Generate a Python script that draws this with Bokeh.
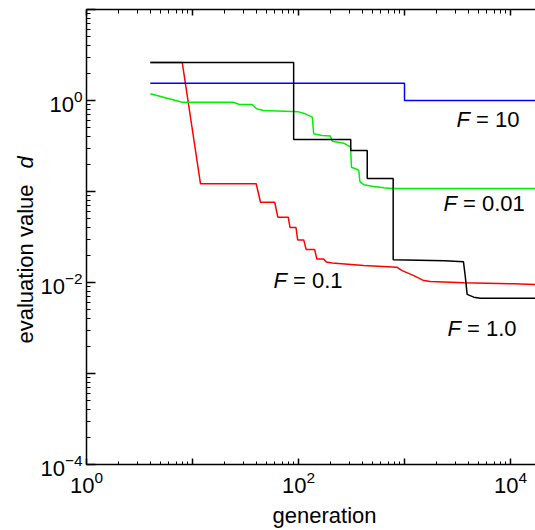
import numpy as np
from bokeh.plotting import figure
from bokeh.models import Range1d, LogAxis, FixedTicker, Label, CustomJSTickFormatter
from bokeh.embed import file_html
from bokeh.resources import INLINE

# ---- data ----
black_gen = [4, 90, 90, 311, 311, 445, 445, 782, 782, 2400, 3600, 3750, 3900, 4500, 5200, 20000]
black_val = [2.62, 2.62, 0.373, 0.373, 0.282, 0.282, 0.139, 0.139, 0.0178, 0.0173, 0.0169,
             0.0115, 0.0074, 0.0069, 0.0067, 0.0067]

blue_gen = [4, 1000, 1000, 20000]
blue_val = [1.55, 1.55, 1.0, 1.0]

green_gen = [4, 8, 24.2, 27.8, 36.6, 40.2, 46.8, 87, 100, 116, 135, 139, 167, 200, 208, 267,
             310, 316, 345, 371, 379, 413, 495, 638, 765, 20000]
green_val = [1.185, 0.958, 0.958, 0.904, 0.904, 0.811, 0.776, 0.757, 0.75, 0.714, 0.656, 0.431,
             0.412, 0.407, 0.357, 0.34, 0.307, 0.185, 0.178, 0.170, 0.129, 0.1186, 0.1143,
             0.110, 0.108, 0.108]

red_gen = [4, 8, 11.9, 39.9, 43.8, 59.7, 63.8, 80, 83.2, 94.7, 98.2, 112, 118, 142, 149, 173,
           183, 208, 413, 853, 951, 1224, 1521, 1759, 3626, 10740, 20000]
red_val = [2.62, 2.62, 0.1216, 0.1216, 0.0762, 0.0762, 0.0522, 0.0522, 0.0402, 0.0402, 0.0294,
           0.0294, 0.0231, 0.0231, 0.0181, 0.0181, 0.0168, 0.0164, 0.0154, 0.0147, 0.0135,
           0.0119, 0.0105, 0.01026, 0.00993, 0.00968, 0.00944]

series_names = ["10", "0.01", "0.1", "1.0"]

x_major = [1, 10, 100, 1000, 10000]
x_minor = [m * 10 ** k for k in range(0, 5) for m in range(2, 10)]
y_major = [1e-4, 1e-3, 1e-2, 1e-1, 1, 10]
y_minor = [m * 10.0 ** k for k in range(-4, 1) for m in range(2, 10)]

FONT = "Liberation Sans"

# plot box: x = 1 at 86 px, 106 px/decade; y = 1e-4 at 464 px, 91 px/decade
W, H = 535, 530
X0PX, Y0PX, XDEC, YDEC = 86, 464, 106, 91


def dx(px):
    return 10 ** ((px - X0PX) / XDEC)


def dy(py):
    return 10 ** (-4 + (Y0PX - py) / YDEC)


SHIFT = 8  # text baseline correction in px

p = figure(width=W, height=H, x_axis_type="log", y_axis_type="log",
           x_range=Range1d(dx(0), dx(W)), y_range=Range1d(dy(H), dy(0)),
           output_backend="svg", toolbar_location=None, min_border=0,
           min_border_left=0, min_border_right=0, min_border_top=0, min_border_bottom=0)
p.outline_line_color = None
p.xgrid.visible = False
p.ygrid.visible = False
p.background_fill_color = "white"
p.border_fill_color = "white"

# bottom axis
xa = p.xaxis[0]
xa.fixed_location = 1e-4
xa.bounds = (1, 1e5)
xa.ticker = FixedTicker(ticks=x_major, minor_ticks=x_minor)
xa.major_label_overrides = {10: "", 1000: ""}
xa.major_tick_in = 6
xa.major_tick_out = 0
xa.minor_tick_in = 3
xa.minor_tick_out = 0
xa.major_label_standoff = 6
# left axis
ya = p.yaxis[0]
ya.fixed_location = 1
ya.bounds = (1e-4, 10)
ya.ticker = FixedTicker(ticks=y_major, minor_ticks=y_minor)
ya.major_label_overrides = {0.001: "", 0.1: "", 10: ""}
ya.major_tick_in = 9
ya.major_tick_out = 0
ya.minor_tick_in = 4
ya.minor_tick_out = 0
ya.major_label_standoff = 4

for ax in (xa, ya):
    ax.axis_line_width = 1.5
    ax.major_tick_line_width = 1.5
    ax.minor_tick_line_width = 1
    ax.axis_line_color = "black"
    ax.major_tick_line_color = "black"
    ax.minor_tick_line_color = "black"
    ax.major_label_text_font = FONT
    ax.major_label_text_font_size = "22px"
    ax.major_label_text_color = "black"

top = LogAxis(ticker=FixedTicker(ticks=x_major, minor_ticks=x_minor),
              formatter=CustomJSTickFormatter(code="return ''"),
              fixed_location=10, bounds=(1, 1e5),
              major_label_text_font_size="0px", major_label_standoff=0,
              major_tick_in=6, major_tick_out=0, minor_tick_in=4, minor_tick_out=0,
              axis_line_width=1.5, major_tick_line_width=1.5, minor_tick_line_width=1)
p.add_layout(top, "above")

# lines
p.line(red_gen, red_val, line_color="#ff0000", line_width=1.5)
p.line(green_gen, green_val, line_color="#00f000", line_width=1.5)
p.line(blue_gen, blue_val, line_color="#0000ff", line_width=1.5)
p.line(black_gen, black_val, line_color="#000000", line_width=1.5)

# series labels: (left px, baseline px)
label_pos = [(456, 127), (443, 211), (273, 288), (447, 336)]
for name, (lx, ly) in zip(series_names, label_pos):
    p.add_layout(Label(x=dx(lx), y=dy(ly - SHIFT), text="F", text_font=FONT, text_font_size="22px",
                       text_font_style="italic", text_baseline="alphabetic", text_color="black"))
    p.add_layout(Label(x=dx(lx), y=dy(ly - SHIFT), x_offset=19.5, text="= " + name, text_font=FONT,
                       text_font_size="22px", text_baseline="alphabetic", text_color="black"))

# axis titles
p.add_layout(Label(x=dx(324), y=dy(523 - SHIFT), text="generation", text_font=FONT,
                   text_font_size="22px", text_align="center", text_baseline="alphabetic",
                   text_color="black"))
p.add_layout(Label(x=dx(33 - SHIFT), y=dy(343), text="evaluation value", angle=np.pi / 2,
                   text_font=FONT, text_font_size="22px", text_align="left",
                   text_baseline="alphabetic", text_color="black"))
p.add_layout(Label(x=dx(33 - SHIFT), y=dy(168), text="d", angle=np.pi / 2, text_font=FONT,
                   text_font_size="22px", text_font_style="italic", text_align="left",
                   text_baseline="alphabetic", text_color="black"))

open("out.html", "w").write(file_html(p, INLINE))
